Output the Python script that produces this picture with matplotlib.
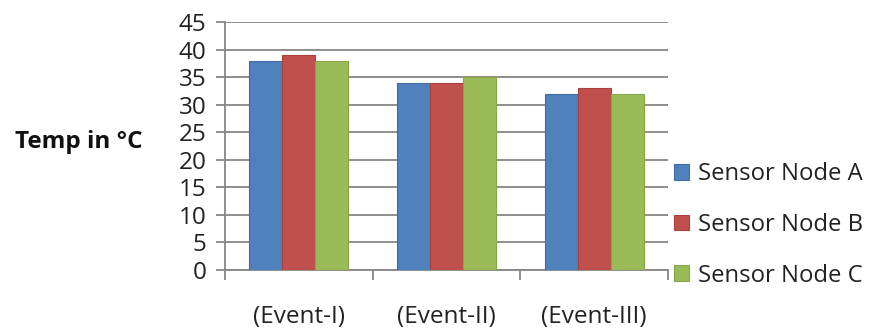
import matplotlib
matplotlib.use('agg')
import matplotlib.pyplot as plt
import numpy as np

events = ['(Event-I)', '(Event-II)', '(Event-III)']
node_a = [38, 34, 32]
node_b = [39, 34, 33]
node_c = [38, 35, 32]
series = ['Sensor Node A', 'Sensor Node B', 'Sensor Node C']
yticks = [0, 5, 10, 15, 20, 25, 30, 35, 40, 45]

fills = ['#4F81BD', '#C0504D', '#9BBB59']
edges = ['#3E6DA6', '#A9413E', '#86A64A']
grey = '#868686'

plt.rcParams['font.family'] = ['Open Sans', 'DejaVu Sans']

fig = plt.figure(figsize=(8.72, 3.32), dpi=100)
ax = fig.add_axes([225 / 872, 62 / 332, 443 / 872, 248 / 332])

x = np.arange(len(events))
w = 0.224
for i, vals in enumerate([node_a, node_b, node_c]):
    ax.bar(x + (i - 1) * w, vals, w, color=fills[i], edgecolor=edges[i],
           linewidth=0.8, label=series[i], zorder=3)

ax.set_xlim(-0.5, 2.5)
ax.set_ylim(0, 45)
ax.set_yticks(yticks)
ax.yaxis.grid(True, color=grey, linewidth=1.3, zorder=0)
ax.set_axisbelow(True)

for s in ['top', 'right']:
    ax.spines[s].set_visible(False)
for s in ['left', 'bottom']:
    ax.spines[s].set_color(grey)
    ax.spines[s].set_linewidth(1.3)

ax.set_xticks(x)
ax.set_xticklabels(events)
ax.set_xticks(np.arange(-0.5, 3, 1), minor=True)
ax.tick_params(axis='x', which='major', length=0, pad=25, labelsize=17.5, labelcolor='#222222')
ax.tick_params(axis='x', which='minor', length=7.5, width=1.3, color=grey)
ax.tick_params(axis='y', length=6.5, width=1.3, color=grey, pad=7, labelsize=17.5, labelcolor='#222222')

fig.text(79 / 872, 184 / 332, 'Temp in °C', ha='center', va='baseline',
         fontsize=17.5, fontweight='bold', color='#111111')

fig.legend(loc='center left', bbox_to_anchor=(674 / 872, 107 / 332), frameon=False,
           fontsize=17.2, handlelength=0.64, handleheight=0.64, handletextpad=0.38,
           labelspacing=1.12, borderpad=0, borderaxespad=0, labelcolor='#222222')

fig.savefig('out.png', dpi=100)
